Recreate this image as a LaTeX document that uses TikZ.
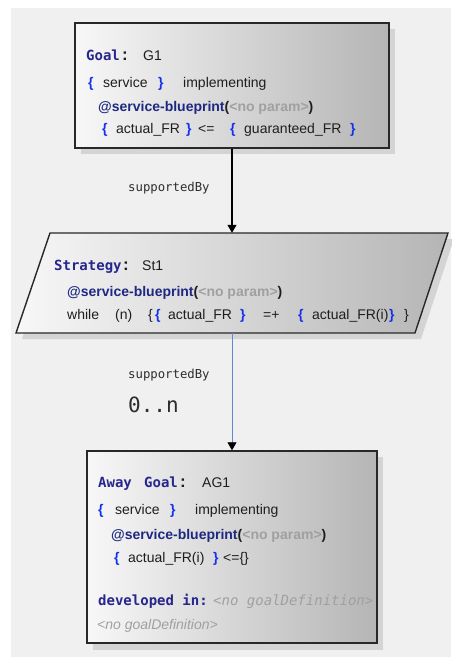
\documentclass[tikz,border=0pt]{standalone}
\usepackage{fontspec}
\setmainfont{Liberation Sans}
\setmonofont{DejaVu Sans Mono}
\usetikzlibrary{arrows.meta}
\definecolor{kwc}{RGB}{38,38,140}
\definecolor{brc}{RGB}{20,50,235}
\definecolor{bpc}{RGB}{30,40,130}
\definecolor{gyc}{RGB}{160,160,160}
\definecolor{txc}{RGB}{30,30,30}
\definecolor{bgc}{RGB}{240,240,240}
\definecolor{shc}{RGB}{212,212,212}
\definecolor{edc}{RGB}{40,40,40}
\definecolor{lnc}{RGB}{100,135,210}
\definecolor{lbc}{RGB}{45,45,45}
\newcommand{\mykw}[1]{{\ttfamily\bfseries\color{kwc}#1}}
\newcommand{\myLB}{{\bfseries\color{brc}\{}}
\newcommand{\myRB}{{\bfseries\color{brc}\}}}
\newcommand{\myBP}{{\bfseries\color{bpc}@service-blueprint}{\bfseries(}{\bfseries\color{gyc}<no param>}{\bfseries)}}
\newcommand{\myCol}{{\bfseries\fontsize{17}{17}\selectfont :}}
\newcommand{\mytk}[2]{\makebox[#1pt][l]{#2}}
\begin{document}
\begin{tikzpicture}[x=1pt,y=-1pt,
  font=\fontsize{14}{16}\selectfont\color{txc},
  box/.style={draw=edc, line width=1.4pt, left color=black!3, right color=black!29},
  txt/.style={anchor=base west, inner sep=0pt},
  lbl/.style={anchor=base west, inner sep=0pt, text=lbc, font=\ttfamily\fontsize{12.3}{14}\selectfont},
  arr/.style={line width=1.1pt, -{Triangle[width=9pt,length=8pt,color=black]}}
]
\useasboundingbox (0,0) rectangle (451,657);
\fill[white] (0,0) rectangle (451,657);
\fill[bgc] (11,8) rectangle (451,657);

% shadows
\fill[shc] (81,29) rectangle (395,154);
\fill[shc] (56,239) -- (454,239) -- (421,339) -- (22,339) -- cycle;
\fill[shc] (93,457) rectangle (383,650);

% Goal
\node[box, minimum width=314pt, minimum height=125pt, inner sep=0pt] (goal) at (232,85.5) {};
% Strategy (parallelogram)
\path[box] (50,233) -- (448,233) -- (415,333) -- (16,333) -- cycle;
\node[minimum width=399pt, minimum height=100pt, inner sep=0pt] (strat) at (232,283) {};
% Away goal
\node[box, minimum width=290pt, minimum height=192pt, inner sep=0pt] (away) at (232,547) {};

% connectors
\draw[arr, draw=black] (goal.south) -- (strat.north);
\draw[arr, draw=lnc, line width=0.8pt] (strat.south) -- (away.north);

\node[lbl] (lab1) at (128,191) {supportedBy};
\node[lbl] (lab2) at (128,378) {supportedBy};
\node[lbl, font=\ttfamily\fontsize{21}{24}\selectfont] (card) at (128,412) {0..n};

% Goal text
\node[txt] (g1) at (86,60) {\mytk{36}{\mykw{Goal}}\mytk{21}{\myCol}G1};
\node[txt] (g2) at (88,87) {\mytk{15}{\myLB}\mytk{55}{service}\mytk{25}{\myRB}implementing};
\node[txt] (g3) at (98,111) {\myBP};
\node[txt] (g4) at (102,133) {\mytk{14}{\myLB}\mytk{70}{actual\_FR}\mytk{12}{\myRB}\mytk{32}{<=}\mytk{14}{\myLB}\mytk{106}{guaranteed\_FR}\myRB};

% Strategy text
\node[txt] (s1) at (54,270) {\mytk{69}{\mykw{Strategy}}\mytk{19}{\myCol}St1};
\node[txt] (s2) at (67,296) {\myBP};
\node[txt] (s3) at (67,319) {\mytk{48}{while}\mytk{33}{(n)}\mytk{7}{\{}\mytk{13}{\myLB}\mytk{72}{actual\_FR}\mytk{23}{\myRB}\mytk{35}{=+}\mytk{14}{\myLB}\mytk{77}{actual\_FR(i)}\mytk{15}{\myRB}\}};

% Away goal text
\node[txt] (a1) at (98,487) {\mytk{46}{\mykw{Away}}\mytk{36}{\mykw{Goal}}\mytk{22}{\myCol}AG1};
\node[txt] (a2) at (98,514) {\mytk{17}{\myLB}\mytk{55}{service}\mytk{25}{\myRB}implementing};
\node[txt] (a3) at (111,539) {\myBP};
\node[txt] (a4) at (114,562) {\mytk{14}{\myLB}\mytk{85}{actual\_FR(i)}\mytk{10}{\myRB}<=\{\}};
\node[txt] (a5) at (98,605) {\mytk{115}{\mykw{developed in:}}{\ttfamily\itshape\color{gyc}<no goalDefinition>}};
\node[txt] (a6) at (97,629) {{\itshape\color{gyc}<no goalDefinition>}};
\end{tikzpicture}
\end{document}
